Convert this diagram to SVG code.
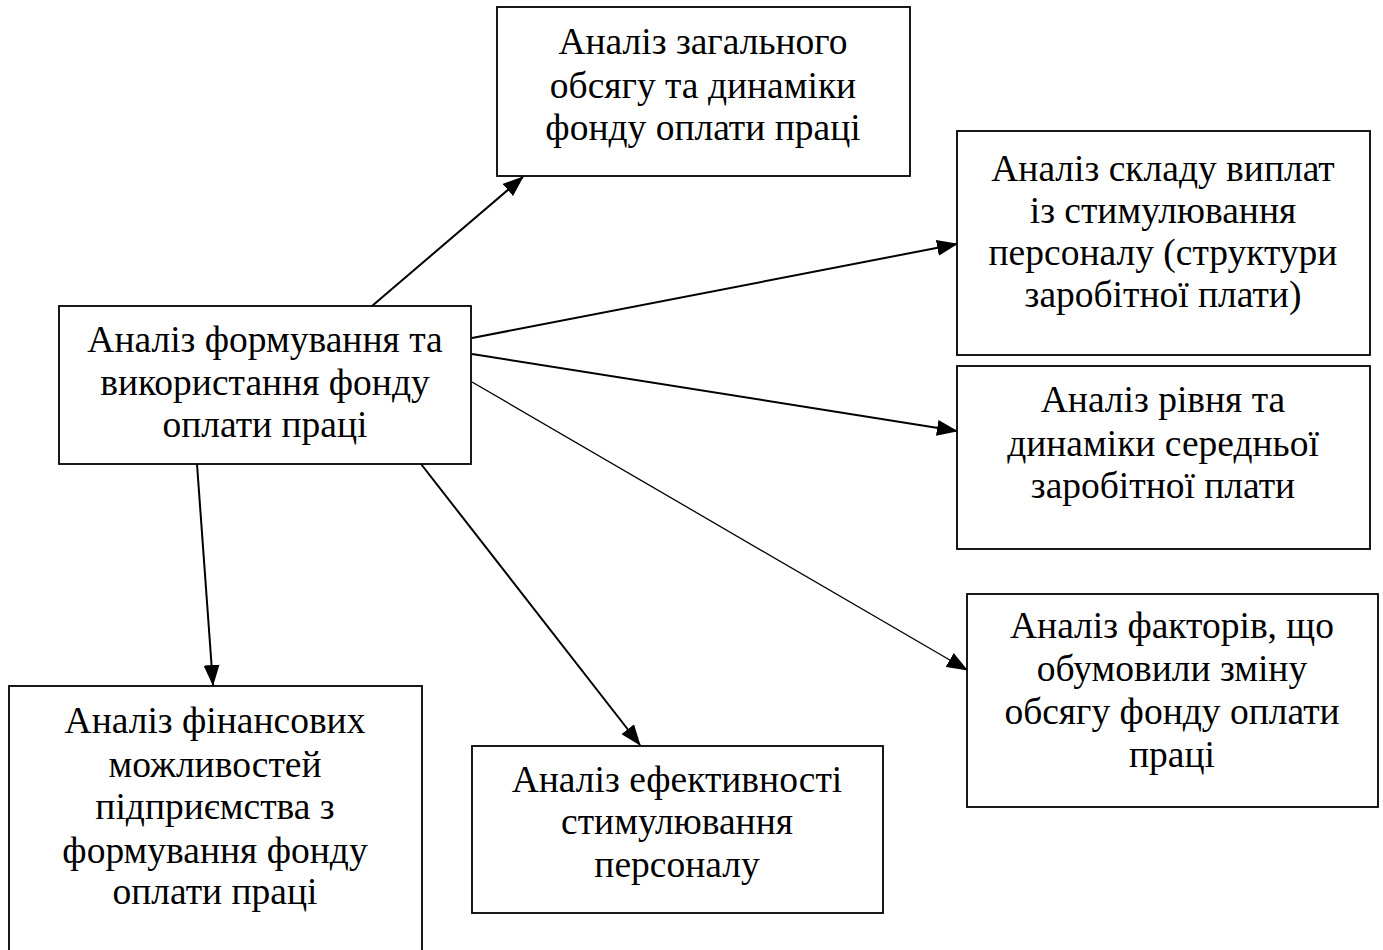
<svg xmlns="http://www.w3.org/2000/svg" width="1383" height="950" viewBox="0 0 1383 950">
<style>
.box{fill:#fff;stroke:#000;stroke-width:1.8}
.t{font-family:"Liberation Serif","Times New Roman",serif;font-size:37.5px;fill:#000;text-anchor:middle}
.c{stroke:#000;stroke-width:2;fill:none}
.thin{stroke-width:1.3}
</style>
<defs>
<marker id="ah" markerUnits="userSpaceOnUse" markerWidth="22" markerHeight="16" refX="20" refY="8" orient="auto">
<path d="M0,0 L21,8 L0,16 Z" fill="#000"/>
</marker>
</defs>
<rect width="1383" height="950" fill="#fff"/>
<g id="connectors">
<line class="c" x1="372" y1="306" x2="523" y2="177" marker-end="url(#ah)"/>
<line class="c" x1="472" y1="338" x2="957" y2="244" marker-end="url(#ah)"/>
<line class="c" x1="472" y1="354" x2="957" y2="431" marker-end="url(#ah)"/>
<line class="c thin" x1="472" y1="382" x2="967" y2="670" marker-end="url(#ah)"/>
<line class="c" x1="421" y1="464" x2="640" y2="745" marker-end="url(#ah)"/>
<line class="c" x1="197" y1="464" x2="213" y2="685" marker-end="url(#ah)"/>
</g>
<g id="n-center">
<rect class="box" x="59" y="306" width="412" height="158"/>
<text class="t" x="265" y="352">Аналіз формування та</text>
<text class="t" x="265" y="395">використання фонду</text>
<text class="t" x="265" y="437">оплати праці</text>
</g>
<g id="n-top">
<rect class="box" x="497" y="7" width="413" height="169"/>
<text class="t" x="703" y="54">Аналіз загального</text>
<text class="t" x="703" y="98">обсягу та динаміки</text>
<text class="t" x="703" y="140">фонду оплати праці</text>
</g>
<g id="n-right1">
<rect class="box" x="957" y="131" width="413" height="224"/>
<text class="t" x="1163" y="181">Аналіз складу виплат</text>
<text class="t" x="1163" y="223">із стимулювання</text>
<text class="t" x="1163" y="265">персоналу (структури</text>
<text class="t" x="1163" y="307">заробітної плати)</text>
</g>
<g id="n-right2">
<rect class="box" x="957" y="366" width="413" height="183"/>
<text class="t" x="1163" y="412">Аналіз рівня та</text>
<text class="t" x="1163" y="456">динаміки середньої</text>
<text class="t" x="1163" y="498">заробітної плати</text>
</g>
<g id="n-right3">
<rect class="box" x="967" y="594" width="411" height="213"/>
<text class="t" x="1172" y="638">Аналіз факторів, що</text>
<text class="t" x="1172" y="681">обумовили зміну</text>
<text class="t" x="1172" y="724">обсягу фонду оплати</text>
<text class="t" x="1172" y="767">праці</text>
</g>
<g id="n-bottomleft">
<rect class="box" x="9" y="686" width="413" height="280"/>
<text class="t" x="215" y="733">Аналіз фінансових</text>
<text class="t" x="215" y="777">можливостей</text>
<text class="t" x="215" y="819">підприємства з</text>
<text class="t" x="215" y="863">формування фонду</text>
<text class="t" x="215" y="904">оплати праці</text>
</g>
<g id="n-bottomcenter">
<rect class="box" x="472" y="746" width="411" height="167"/>
<text class="t" x="677" y="792">Аналіз ефективності</text>
<text class="t" x="677" y="834">стимулювання</text>
<text class="t" x="677" y="877">персоналу</text>
</g>
</svg>
